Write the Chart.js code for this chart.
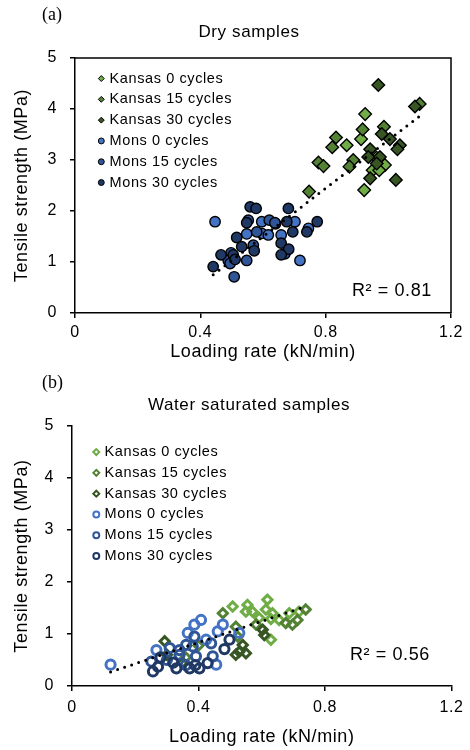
<!DOCTYPE html>
<html><head><meta charset="utf-8">
<script src="https://cdn.jsdelivr.net/npm/chart.js@4.4.1/dist/chart.umd.min.js"></script>
<style>
html,body{margin:0;padding:0;background:#fff;}
#wrap{width:470px;height:750px;position:relative;background:#fff;}
canvas{display:block;}
</style></head><body>
<div id="wrap"><canvas id="cA" width="470" height="375"></canvas><canvas id="cB" width="470" height="375"></canvas></div>
<script>
// ---------------- data ----------------
const seriesNames = ['Kansas 0 cycles','Kansas 15 cycles','Kansas 30 cycles','Mons 0 cycles','Mons 15 cycles','Mons 30 cycles'];
const seriesColors = ['#70AD47','#548235','#375623','#4472C4','#2F5597','#1F3864'];

// (a) Dry samples  [loading rate kN/min, tensile strength MPa]
const dryKansas0 = [[0.926,3.90],[0.867,3.29],[0.913,3.41],[0.989,2.90],[0.950,2.80],[0.923,2.41],[0.971,2.80],[0.962,3.05]];
const dryKansas15 = [[1.100,4.10],[0.918,3.60],[0.986,3.65],[0.833,3.44],[0.821,3.25],[0.777,2.95],[0.793,2.88],[0.888,3.00],[0.876,2.87],[0.747,2.38]];
const dryKansas30 = [[0.968,4.47],[1.085,4.05],[0.979,3.51],[1.005,3.41],[1.037,3.29],[1.029,3.21],[0.942,3.21],[0.936,3.06],[0.973,3.06],[0.963,2.93],[0.942,2.64],[1.024,2.61]];
const dryMons0 = [[0.447,1.79],[0.718,1.03],[0.596,1.79],[0.702,1.79],[0.745,1.66],[0.596,1.56],[0.617,1.53],[0.658,1.53],[0.548,1.55],[0.640,1.75]];
const dryMons15 = [[0.553,1.82],[0.620,1.82],[0.638,1.77],[0.580,1.59],[0.569,1.33],[0.498,1.18],[0.489,1.03],[0.548,1.03],[0.508,0.71],[0.670,1.16],[0.495,0.97]];
const dryMons30 = [[0.559,2.08],[0.578,2.05],[0.681,2.05],[0.548,1.77],[0.676,1.79],[0.740,1.59],[0.773,1.79],[0.695,1.59],[0.516,1.48],[0.658,1.37],[0.532,1.30],[0.572,1.22],[0.682,1.25],[0.658,1.14],[0.466,1.14],[0.505,1.14],[0.511,1.05],[0.441,0.91]];
const dryTrend = [[0.441,0.75],[1.100,3.86]];
const dryR2 = 'R² = 0.81';

// (b) Water saturated samples
const wetKansas0 = [[0.508,1.53],[0.555,1.56],[0.618,1.66],[0.571,1.43],[0.634,1.40],[0.592,1.31],[0.629,1.29],[0.655,1.27],[0.629,0.89],[0.550,1.43],[0.613,1.47],[0.687,1.40],[0.718,1.43]];
const wetKansas15 = [[0.477,1.40],[0.582,1.18],[0.676,1.21],[0.739,1.47],[0.713,1.27],[0.697,1.18],[0.518,1.14],[0.524,0.95],[0.400,0.78],[0.360,0.55]];
const wetKansas30 = [[0.293,0.86],[0.603,1.08],[0.608,0.98],[0.540,0.79],[0.529,0.66],[0.550,0.63],[0.518,0.60],[0.300,0.60],[0.350,0.45]];
const wetMons0 = [[0.122,0.41],[0.387,1.18],[0.408,1.27],[0.366,1.02],[0.477,1.18],[0.461,1.05],[0.529,1.02],[0.267,0.69],[0.424,0.89],[0.456,0.41]];
const wetMons15 = [[0.387,0.95],[0.361,0.79],[0.382,0.76],[0.440,0.82],[0.445,0.57],[0.340,0.60],[0.392,0.57],[0.309,0.73],[0.340,0.69],[0.251,0.47],[0.300,0.50],[0.360,0.40]];
const wetMons30 = [[0.256,0.28],[0.272,0.37],[0.498,0.89],[0.482,0.71],[0.330,0.34],[0.372,0.34],[0.403,0.34],[0.429,0.44],[0.280,0.55],[0.320,0.45],[0.390,0.40]];
const wetTrend = [[0.122,0.27],[0.739,1.53]];
const wetR2 = 'R² = 0.56';

// axes
const xTickValues = [0, 0.4, 0.8, 1.2];
const xTickLabels = ['0', '0.4', '0.8', '1.2'];
const yTickValues = [0, 1, 2, 3, 4, 5];
const yTickLabels = ['0', '1', '2', '3', '4', '5'];
const xTitle = 'Loading rate (kN/min)';
const yTitle = 'Tensile strength (MPa)';

// ---------------- rendering ----------------
const FONT = "'Liberation Sans', Arial, sans-serif";
const LS = '0.6px';
Chart.defaults.font.family = FONT;
Chart.defaults.color = '#000';

const pts = a => a.map(p => ({x: p[0], y: p[1]}));

function pointDs(idx, data, hollow) {
  const diamond = idx < 3;
  const color = seriesColors[idx];
  const r = hollow ? 4.6 : (diamond ? 6.3 : 5.2);
  return {
    label: seriesNames[idx],
    data: pts(data),
    order: 6 - idx,
    pointStyle: diamond ? 'rectRot' : 'circle',
    pointRadius: r, pointHoverRadius: r,
    backgroundColor: hollow ? 'rgba(255,255,255,0)' : color,
    borderColor: hollow ? color : '#000',
    borderWidth: hollow ? 3 : 1.4,
    showLine: false
  };
}
function trendDs(data) {
  return {
    label: 'trend', data: pts(data), order: 0, showLine: true,
    pointRadius: 0, pointHoverRadius: 0,
    borderColor: '#000', backgroundColor: '#000', borderWidth: 3,
    borderDash: [0, 7.4], borderCapStyle: 'round', fill: false
  };
}

const decor = {
  id: 'decor',
  beforeLayout(chart) { chart.ctx.letterSpacing = LS; },
  beforeDraw(chart) { chart.ctx.letterSpacing = LS; },
  afterLayout(chart, args, o) {
    const lg = chart.legend, ca = chart.chartArea;
    if (lg) {
      const w = lg.width, h = lg.height;
      lg.left = ca.left + o.legendDx; lg.top = ca.top + o.legendDy;
      lg.right = lg.left + w; lg.bottom = lg.top + h;
    }
  },
  afterDraw(chart, args, o) {
    const ctx = chart.ctx, ca = chart.chartArea;
    ctx.save();
    if (o.box) {
      ctx.strokeStyle = '#000'; ctx.lineWidth = 1.5;
      ctx.beginPath(); ctx.moveTo(ca.left, ca.top); ctx.lineTo(ca.right, ca.top); ctx.lineTo(ca.right, ca.bottom); ctx.stroke();
    }
    ctx.fillStyle = '#000'; ctx.textBaseline = 'middle';
    ctx.letterSpacing = '0px';
    ctx.font = "18px 'Liberation Serif', 'Times New Roman', serif"; ctx.textAlign = 'left';
    ctx.fillText(o.panel, o.panelX, o.panelY);
    ctx.letterSpacing = LS;
    ctx.font = '17px ' + FONT; ctx.textAlign = 'center';
    ctx.fillText(o.title, o.titleX, o.titleY);
    ctx.font = '18px ' + FONT; ctx.textAlign = 'left';
    ctx.fillText(o.r2, o.r2X, o.r2Y);
    ctx.restore();
  }
};

function makeChart(id, sets, trend, o) {
  const datasets = sets.map((d, i) => pointDs(i, d, o.hollow));
  datasets.push(trendDs(trend));
  return new Chart(document.getElementById(id), {
    type: 'scatter',
    data: { datasets },
    plugins: [decor],
    options: {
      responsive: false, animation: false, devicePixelRatio: 1,
      layout: { padding: { top: o.padTop, right: o.padRight, bottom: 0, left: 0 } },
      plugins: {
        tooltip: { enabled: false },
        title: { display: false },
        legend: {
          display: true, position: 'chartArea', align: 'start',
          labels: {
            usePointStyle: true, boxWidth: 2, boxHeight: o.legBox, padding: 6.3,
            font: { size: 14.5 }, color: '#000',
            generateLabels(chart) {
              const items = Chart.defaults.plugins.legend.labels.generateLabels(chart);
              return items.filter(it => it.datasetIndex < 6)
                .map(it => { it.lineWidth = o.legLW; return it; })
                .sort((a, b) => a.datasetIndex - b.datasetIndex);
            }
          }
        },
        decor: o.decor
      },
      scales: {
        x: {
          type: 'linear', min: 0, max: 1.2,
          afterBuildTicks: s => { s.ticks = xTickValues.map(v => ({ value: v })); },
          afterFit: s => { s.height = o.xH; },
          ticks: { callback: (v, i) => xTickLabels[i], font: { size: 16 }, padding: o.xPad, color: '#000', autoSkip: false, maxRotation: 0 },
          grid: { drawOnChartArea: false, drawTicks: true, tickLength: 5, color: '#000', lineWidth: 1.5 },
          border: { display: true, color: '#000', width: 1.5 },
          title: { display: true, text: xTitle, font: { size: 18, lineHeight: 1.2 }, padding: { top: 0, bottom: o.xTitlePad }, color: '#000' }
        },
        y: {
          type: 'linear', min: 0, max: 5,
          afterBuildTicks: s => { s.ticks = yTickValues.map(v => ({ value: v })); },
          afterFit: s => { s.width = o.yW; },
          ticks: { callback: (v, i) => yTickLabels[i], font: { size: 16 }, padding: 13, color: '#000', autoSkip: false },
          grid: { drawOnChartArea: false, drawTicks: true, tickLength: 5, color: '#000', lineWidth: 1.5 },
          border: { display: true, color: '#000', width: 1.5 },
          title: { display: true, text: yTitle, font: { size: 18, lineHeight: 1.2 }, padding: { top: 11.5, bottom: 0 }, color: '#000' }
        }
      }
    }
  });
}

makeChart('cA', [dryKansas0, dryKansas15, dryKansas30, dryMons0, dryMons15, dryMons30], dryTrend, {
  hollow: false, padTop: 58, padRight: 19, xH: 62, yW: 75, xPad: 5, xTitlePad: 12.2,
  legBox: 4.2, legLW: 1,
  decor: { legendDx: 19, legendDy: 7, box: true, panel: '(a)', panelX: 42, panelY: 15,
           title: 'Dry samples', titleX: 249, titleY: 32, r2: dryR2, r2X: 352, r2Y: 291 }
});
makeChart('cB', [wetKansas0, wetKansas15, wetKansas30, wetMons0, wetMons15, wetMons30], wetTrend, {
  hollow: true, padTop: 51, padRight: 17, xH: 64, yW: 72, xPad: 6.5, xTitlePad: 2.5,
  legBox: 4.2, legLW: 2,
  decor: { legendDx: 17, legendDy: 12.5, box: false, panel: '(b)', panelX: 42, panelY: 8,
           title: 'Water saturated samples', titleX: 249, titleY: 30, r2: wetR2, r2X: 350, r2Y: 280 }
});
</script>
</body></html>
